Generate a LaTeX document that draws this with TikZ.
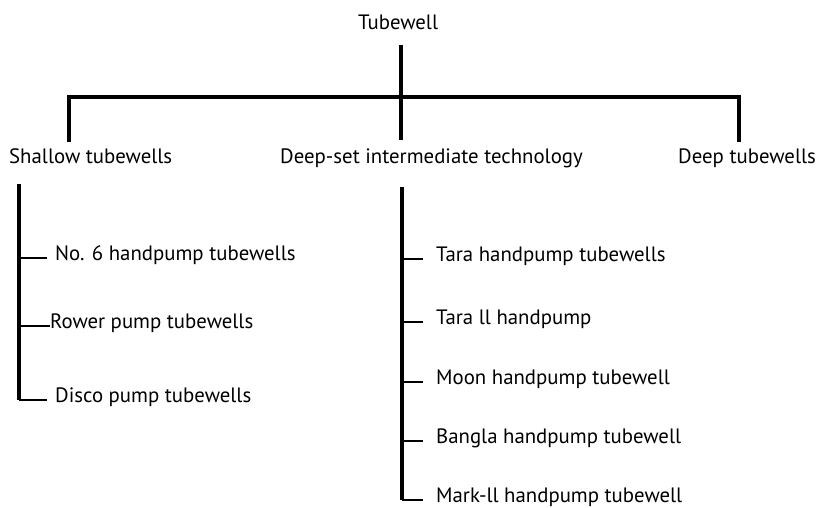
\documentclass[tikz,border=0pt]{standalone}
\usepackage{fontspec}
\setmainfont{PT Sans}
\usepackage{tikz}
\usetikzlibrary{positioning,calc}

\begin{document}
\begin{tikzpicture}[x=1pt,y=-1pt,
  lbl/.style={anchor=base west, inner sep=0pt, font=\fontsize{20.8}{24}\selectfont},
  trunk/.style={line width=3.5pt},
  twig/.style={line width=2pt}]
\useasboundingbox (0,0) rectangle (818,507);
% levels
\node[lbl] (root) at (358,29) {Tubewell};
\node[lbl] (shallow) at (9,163) {Shallow tubewells};
\node[lbl] (deepset) at (280,163) {Deep-set intermediate technology};
\node[lbl] (deep) at (678,163) {Deep tubewells};
% shallow ones
\node[lbl] (no6) at (55,260) {No. 6 handpump tubewells};
\node[lbl] (rower) at (50,328) {Rower pump tubewells};
\node[lbl] (disco) at (55,402) {Disco pump tubewells};
% deep-set ones
\node[lbl] (tara) at (436,261) {Tara handpump tubewells};
\node[lbl] (tara2) at (436,324) {Tara ll handpump};
\node[lbl] (moon) at (436,384) {Moon handpump tubewell};
\node[lbl] (bangla) at (436,443) {Bangla handpump tubewell};
\node[lbl] (mark2) at (436,502) {Mark-ll handpump tubewell};

\coordinate (rise) at (0,45);
\coordinate (drop) at (0,140);
\coordinate (hub) at (401,97);
\coordinate (sdrop) at (69,97);
\coordinate (ddrop) at (739,97);
\draw[trunk] (hub |- rise) -- (hub |- drop);
\draw[trunk, line cap=rect] (sdrop |- drop) -- (sdrop) -- (ddrop) -- (ddrop |- drop);

% spines
\coordinate (sspine) at (19,184);
\coordinate (dspine) at (402,187);
\draw[trunk] (sspine) -- (sspine |- disco.mid west);
\draw[trunk] (dspine) -- (dspine |- mark2.mid west);
\foreach \n/\g in {no6/8, rower/0, disco/8}
  \draw[twig] (sspine |- \n.mid west) -- ([xshift=-\g pt]\n.mid west);
\foreach \n in {tara, tara2, moon, bangla, mark2}
  \draw[twig] (dspine |- \n.mid west) -- ([xshift=-13pt]\n.mid west);
\end{tikzpicture}
\end{document}
